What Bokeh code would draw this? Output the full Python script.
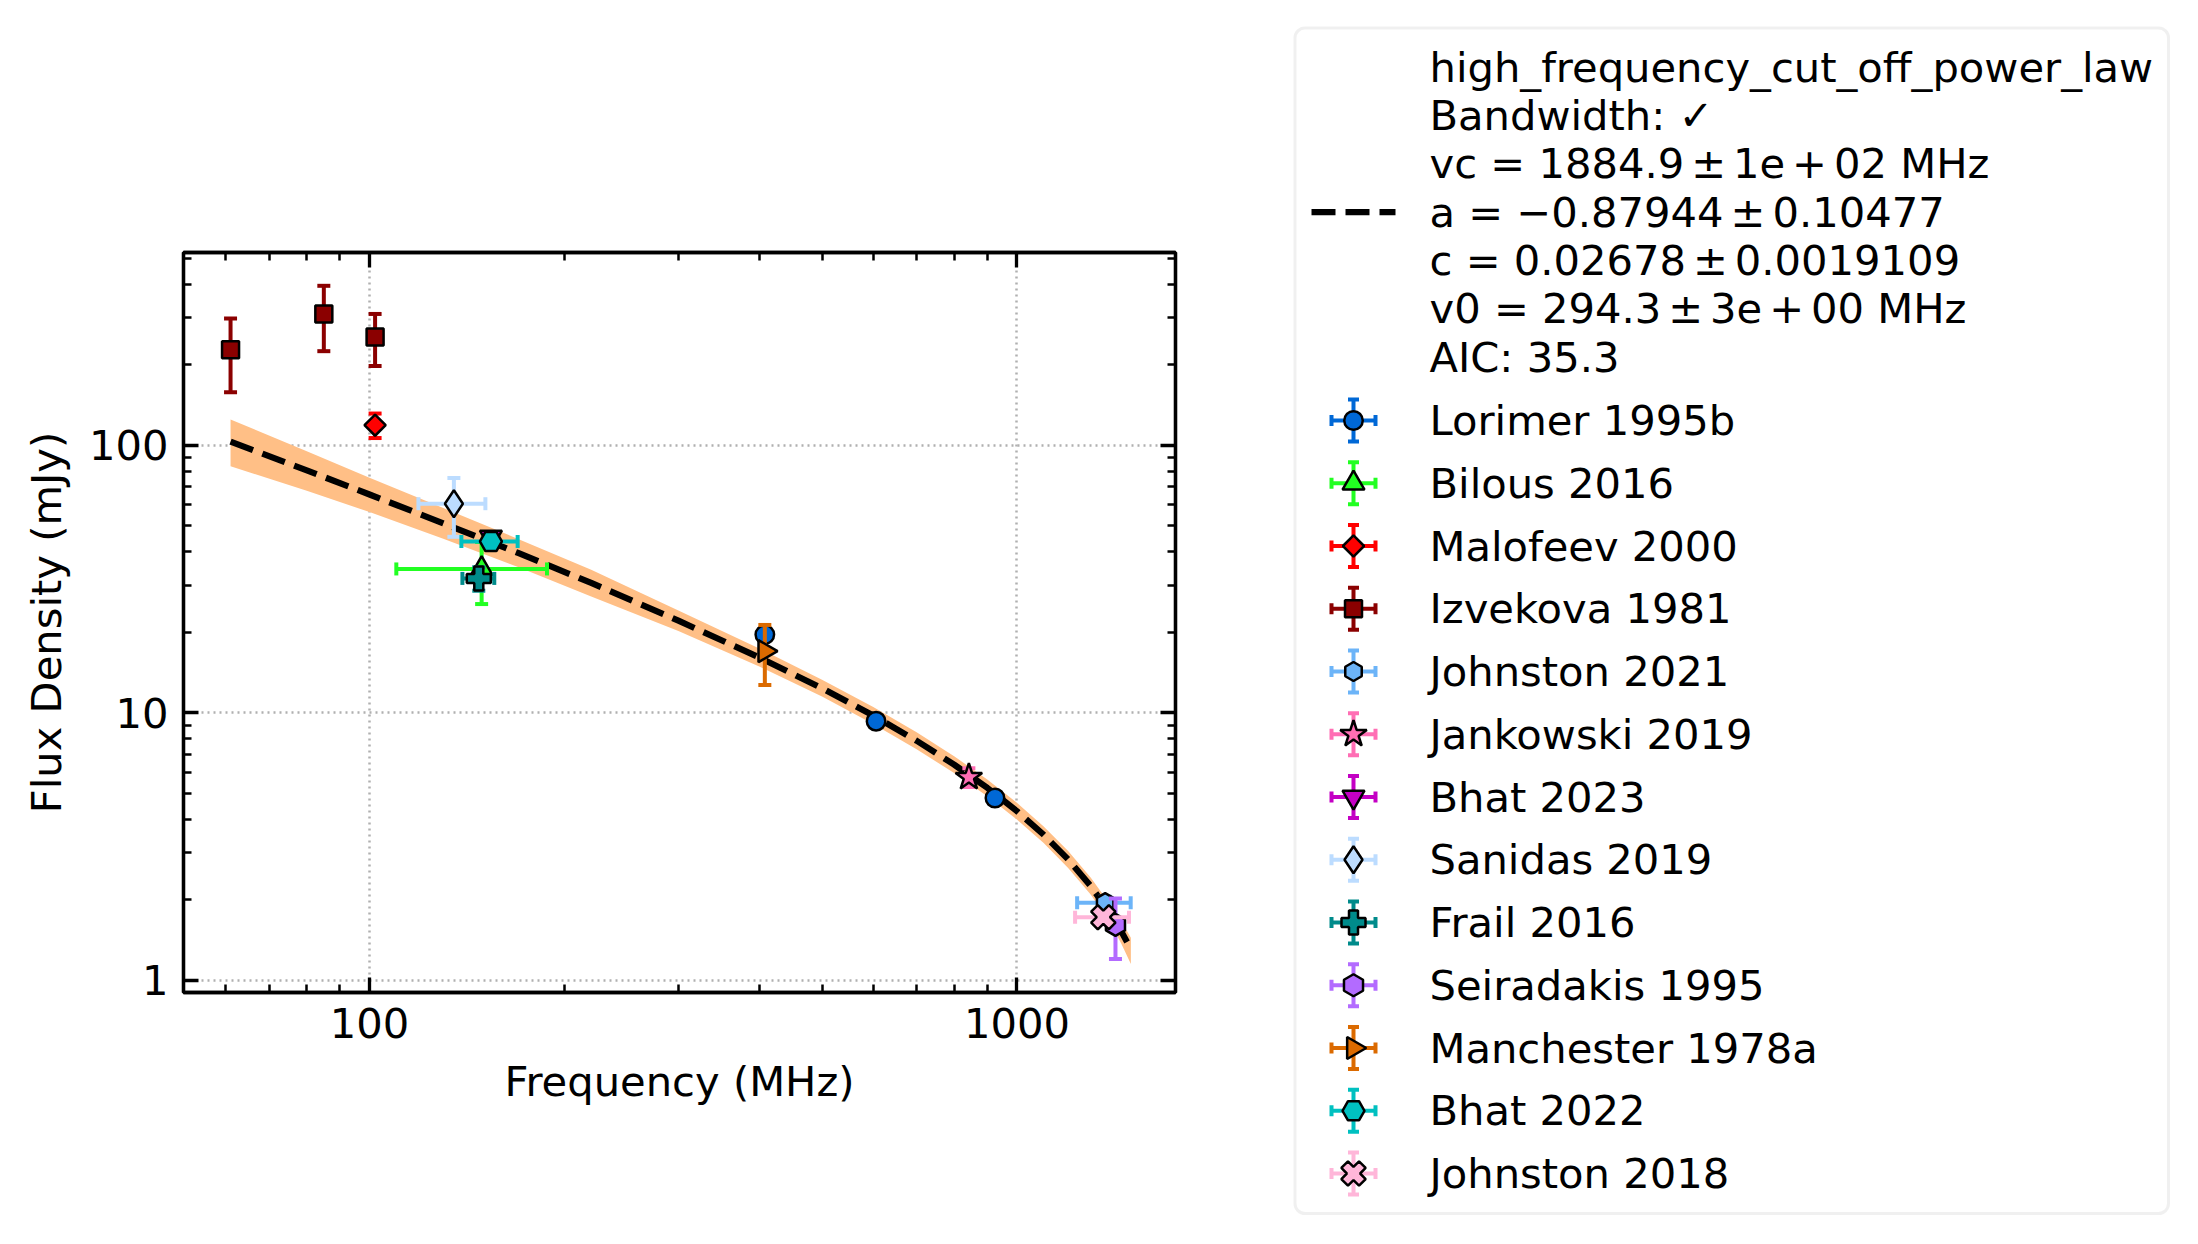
import numpy as np
from bokeh.plotting import figure
from bokeh.models import Range1d, LogAxis, FixedTicker, PrintfTickFormatter, BoxAnnotation
from bokeh.layouts import row
from bokeh.embed import file_html
from bokeh.resources import INLINE
from bokeh.core.properties import value

# ------------------------------------------------------------------ data
series_names = ["Lorimer 1995b", "Bilous 2016", "Malofeev 2000", "Izvekova 1981",
                "Johnston 2021", "Jankowski 2019", "Bhat 2023", "Sanidas 2019",
                "Frail 2016", "Seiradakis 1995", "Manchester 1978a", "Bhat 2022",
                "Johnston 2018"]

lorimer_freq = [408, 606, 925]
lorimer_flux = [19.6, 9.3, 4.8]
lorimer_ferr = [0.8, 0.37, 0.19]
lorimer_bw = [0, 0, 0]

bilous_freq = [149]
bilous_flux = [34.5]
bilous_ferr = [9.0]
bilous_bw = [39]

malofeev_freq = [102]
malofeev_flux = [119]
malofeev_ferr = [12.5]
malofeev_bw = [0]

izvekova_freq = [61, 85, 102]
izvekova_flux = [228, 310, 254]
izvekova_ferr = [70, 85, 56]
izvekova_bw = [0, 0, 0]

johnston21_freq = [1369]
johnston21_flux = [1.95]
johnston21_ferr = [0.1]
johnston21_bw = [130]

jankowski_freq = [843]
jankowski_flux = [5.74]
jankowski_ferr = [0.46]
jankowski_bw = [0]

bhat23_freq = [154]
bhat23_flux = [45.4]
bhat23_ferr = [2.0]
bhat23_bw = [0]

sanidas_freq = [135]
sanidas_flux = [60.5]
sanidas_ferr = [15.0]
sanidas_bw = [16]

frail_freq = [147.5]
frail_flux = [31.8]
frail_ferr = [3.2]
frail_bw = [8.35]

seiradakis_freq = [1420]
seiradakis_flux = [1.61]
seiradakis_ferr = [0.41]
seiradakis_bw = [0]

manchester_freq = [408]
manchester_flux = [17.0]
manchester_ferr = [4.3]
manchester_bw = [0]

bhat22_freq = [154]
bhat22_flux = [43.7]
bhat22_ferr = [1.5]
bhat22_bw = [15.36]

johnston18_freq = [1360]
johnston18_flux = [1.72]
johnston18_ferr = [0.1]
johnston18_bw = [130]

# fitted model curve and its uncertainty band
fit_freq = [61, 80, 100, 130, 170, 220, 300, 400, 500, 600, 700, 800, 900,
            1000, 1100, 1200, 1300, 1400, 1450, 1500]
fit_flux = [103.3, 80.6, 65.5, 51.1, 39.5, 30.6, 22.1, 16.1, 12.35, 9.76, 7.86,
            6.40, 5.24, 4.29, 3.50, 2.83, 2.25, 1.75, 1.52, 1.31]
fit_hi = [125, 95, 75.6, 58.3, 44.6, 34.3, 24.1, 17.4, 13.3, 10.5, 8.45, 6.88,
          5.63, 4.61, 3.76, 3.04, 2.42, 1.89, 1.66, 1.44]
fit_lo = [83.5, 67.7, 56.3, 44.7, 35.0, 27.2, 20.2, 14.9, 11.5, 9.08, 7.31, 5.95,
          4.87, 3.99, 3.26, 2.63, 2.09, 1.61, 1.37, 1.15]

fit_label_lines = ["high_frequency_cut_off_power_law",
                   "Bandwidth: \u2713",
                   "vc = 1884.9\u2006\u00b1\u20061e\u2006+\u200602 MHz",
                   "a = \u22120.87944\u2006\u00b1\u20060.10477",
                   "c = 0.02678\u2006\u00b1\u20060.0019109",
                   "v0 = 294.3\u2006\u00b1\u20063e\u2006+\u200600 MHz",
                   "AIC: 35.3"]

x_major_ticks = [100, 1000]
x_minor_ticks = [60, 70, 80, 90, 200, 300, 400, 500, 600, 700, 800, 900]
y_major_ticks = [1, 10, 100]
y_minor_ticks = [2, 3, 4, 5, 6, 7, 8, 9, 20, 30, 40, 50, 60, 70, 80, 90,
                 200, 300, 400, 500]

all_series = [
    (lorimer_freq, lorimer_flux, lorimer_ferr, lorimer_bw),
    (bilous_freq, bilous_flux, bilous_ferr, bilous_bw),
    (malofeev_freq, malofeev_flux, malofeev_ferr, malofeev_bw),
    (izvekova_freq, izvekova_flux, izvekova_ferr, izvekova_bw),
    (johnston21_freq, johnston21_flux, johnston21_ferr, johnston21_bw),
    (jankowski_freq, jankowski_flux, jankowski_ferr, jankowski_bw),
    (bhat23_freq, bhat23_flux, bhat23_ferr, bhat23_bw),
    (sanidas_freq, sanidas_flux, sanidas_ferr, sanidas_bw),
    (frail_freq, frail_flux, frail_ferr, frail_bw),
    (seiradakis_freq, seiradakis_flux, seiradakis_ferr, seiradakis_bw),
    (manchester_freq, manchester_flux, manchester_ferr, manchester_bw),
    (bhat22_freq, bhat22_flux, bhat22_ferr, bhat22_bw),
    (johnston18_freq, johnston18_flux, johnston18_ferr, johnston18_bw),
]

# ------------------------------------------------------------------ style
FONT = "DejaVu Sans"
FS = "41.67px"
EW = 4          # error bar width
CAP = 13        # cap length
OL = 2.5        # marker outline
styles = [
    dict(marker="circle", size=18.5, angle=0.0, color="#0068d6"),
    dict(marker="triangle", size=22, angle=0.0, color="#22ff22"),
    dict(marker="square", size=15, angle=np.pi / 4, color="#ff0000"),
    dict(marker="square", size=17, angle=0.0, color="#8b0000"),
    dict(marker="hex", size=19, angle=np.pi / 6, color="#6cb4f8"),
    dict(marker="star", size=28, angle=0.0, color="#ff6eb4"),
    dict(marker="inverted_triangle", size=22, angle=0.0, color="#c400c4"),
    dict(marker="diamond", size=27, angle=0.0, color="#bcdcff"),
    dict(marker="plus", size=24, angle=0.0, color="#008b8b"),
    dict(marker="hex", size=22, angle=np.pi / 6, color="#b36bff"),
    dict(marker="triangle", size=22, angle=-np.pi / 2, color="#db6a00"),
    dict(marker="hex", size=22, angle=0.0, color="#00c0c0"),
    dict(marker="plus", size=25, angle=np.pi / 4, color="#ffb6d9"),
]


def draw_marker(fig, x, y, st):
    return fig.scatter(x=x, y=y, marker=st["marker"], size=st["size"], angle=st["angle"],
                       fill_color=st["color"], line_color="black", line_width=OL)


# ------------------------------------------------------------------ main plot
p = figure(width=1290, height=1244, x_axis_type="log", y_axis_type="log",
           x_range=Range1d(51.6, 1758), y_range=Range1d(0.8995, 526.2),
           output_backend="svg", toolbar_location=None,
           min_border_left=183, min_border_right=115,
           min_border_top=252, min_border_bottom=252)
p.background_fill_color = "white"
p.border_fill_color = "white"
p.outline_line_color = "black"
p.outline_line_width = 3.3

bottom_ax = p.below[0]
left_ax = p.left[0]

bottom_ax.ticker = FixedTicker(ticks=x_major_ticks, minor_ticks=x_minor_ticks)
left_ax.ticker = FixedTicker(ticks=y_major_ticks, minor_ticks=y_minor_ticks)
bottom_ax.formatter = PrintfTickFormatter(format="%d")
left_ax.formatter = PrintfTickFormatter(format="%d")

top_ax = LogAxis(ticker=FixedTicker(ticks=x_major_ticks, minor_ticks=x_minor_ticks),
                 formatter=PrintfTickFormatter(format="%d"),
                 major_label_text_font_size="2px", major_label_text_alpha=0.0,
                 major_label_standoff=0)
right_ax = LogAxis(ticker=FixedTicker(ticks=y_major_ticks, minor_ticks=y_minor_ticks),
                   formatter=PrintfTickFormatter(format="%d"),
                   major_label_text_font_size="2px", major_label_text_alpha=0.0,
                   major_label_standoff=0)
p.add_layout(top_ax, "above")
p.add_layout(right_ax, "right")

for ax in [bottom_ax, left_ax, top_ax, right_ax]:
    ax.axis_line_color = "black"
    ax.axis_line_width = 3.3
    ax.major_tick_in = 15
    ax.major_tick_out = 0
    ax.minor_tick_in = 8
    ax.minor_tick_out = 0
    ax.major_tick_line_width = 3.3
    ax.minor_tick_line_width = 2.5
    ax.major_tick_line_color = "black"
    ax.minor_tick_line_color = "black"

for ax in [bottom_ax, left_ax]:
    ax.major_label_text_font = FONT
    ax.major_label_text_font_size = FS
    ax.major_label_text_color = "black"
    ax.axis_label_text_font = FONT
    ax.axis_label_text_font_size = FS
    ax.axis_label_text_font_style = "normal"
    ax.axis_label_text_color = "black"

bottom_ax.axis_label = "Frequency (MHz)"
left_ax.axis_label = "Flux Density (mJy)"
bottom_ax.major_label_standoff = 15
bottom_ax.axis_label_standoff = 16
left_ax.major_label_standoff = 15
left_ax.axis_label_standoff = 15

for g in [p.xgrid[0], p.ygrid[0]]:
    g.grid_line_color = "#b0b0b0"
    g.grid_line_width = 2.5
    g.grid_line_dash = "2 4"

# fit band + line
p.varea(x=fit_freq, y1=fit_lo, y2=fit_hi, fill_color="#ffbf86", fill_alpha=1.0)
p.line(x=fit_freq, y=fit_flux, line_color="black", line_width=6.2, line_dash="24 10")

# data series
for (fx, fy, fe, fb), st in zip(all_series, styles):
    x = np.array(fx, float)
    y = np.array(fy, float)
    e = np.array(fe, float)
    b = np.array(fb, float)
    c = st["color"]
    p.segment(x0=x, y0=y - e, x1=x, y1=y + e, line_color=c, line_width=EW)
    p.scatter(x=np.r_[x, x], y=np.r_[y - e, y + e], marker="dash", size=CAP,
              line_color=c, line_width=EW)
    m = b > 0
    if m.any():
        xm, ym, bm = x[m], y[m], b[m]
        p.segment(x0=xm - bm, y0=ym, x1=xm + bm, y1=ym, line_color=c, line_width=EW)
        p.scatter(x=np.r_[xm - bm, xm + bm], y=np.r_[ym, ym], marker="dash", size=CAP,
                  angle=np.pi / 2, line_color=c, line_width=EW)
    draw_marker(p, x, y, st)

# ------------------------------------------------------------------ legend panel
H = 1244
lg = figure(width=908, height=H, x_range=Range1d(1290, 2198), y_range=Range1d(0, H),
            output_backend="svg", toolbar_location=None,
            x_axis_type=None, y_axis_type=None, min_border=0)
lg.outline_line_color = None
lg.grid.visible = False
lg.background_fill_color = "white"
lg.border_fill_color = "white"

for fig in (p, lg):
    if "frame_align" in fig.properties():
        fig.frame_align = False

box = BoxAnnotation(left=1294.5, right=2168, top=H - 27.5, bottom=H - 1213,
                    fill_alpha=0.0, line_color="#cccccc", line_width=3,
                    level="underlay")
if "border_radius" in box.properties():
    box.border_radius = 10
lg.add_layout(box)

# fit entry
fit_y = [66.7 + 48.33 * i for i in range(len(fit_label_lines))]
lg.line(x=[1311, 1395], y=[H - 211.7, H - 211.7], line_color="black",
        line_width=6.2, line_dash="24 10")
lg.text(x=[1429] * len(fit_label_lines), y=[H - v for v in fit_y], text=fit_label_lines,
        text_font=value(FONT), text_font_size=FS, text_baseline="middle",
        text_align="left", text_color="black")

# series entries
ent_y = [420 + 62.75 * i for i in range(len(series_names))]
hx = 1353
for yc, st in zip(ent_y, styles):
    c = st["color"]
    yy = H - yc
    lg.segment(x0=[hx - 22, hx], y0=[yy, yy - 21], x1=[hx + 22, hx], y1=[yy, yy + 21],
               line_color=c, line_width=EW)
    lg.scatter(x=[hx, hx], y=[yy - 21, yy + 21], marker="dash", size=11,
               line_color=c, line_width=EW)
    lg.scatter(x=[hx - 22, hx + 22], y=[yy, yy], marker="dash", size=11,
               angle=np.pi / 2, line_color=c, line_width=EW)
    draw_marker(lg, [hx], [yy], st)

lg.text(x=[1429] * len(series_names), y=[H - v for v in ent_y], text=series_names,
        text_font=value(FONT), text_font_size=FS, text_baseline="middle",
        text_align="left", text_color="black")

layout = row(p, lg)
open("out.html", "w").write(file_html(layout, INLINE))
